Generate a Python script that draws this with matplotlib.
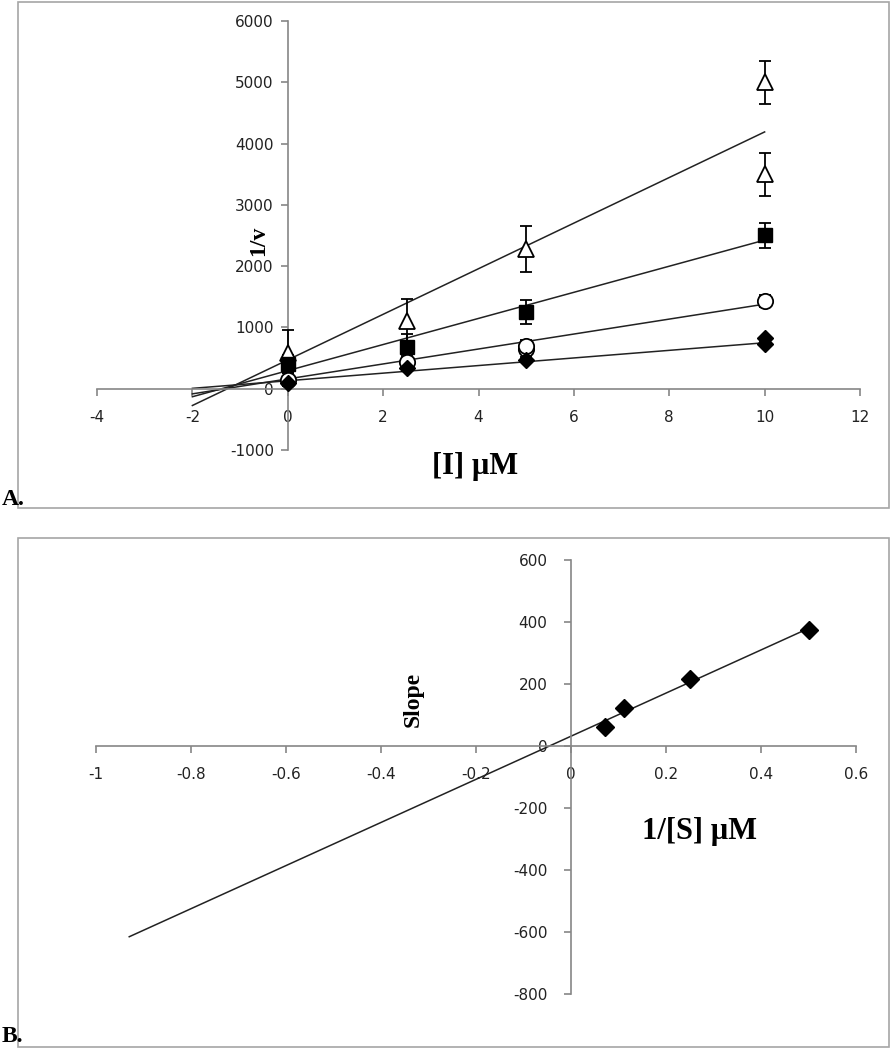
import numpy as np
from matplotlib import pyplot as plt
from matplotlib.patches import Rectangle

plt.rcParams['axes.unicode_minus'] = False

# Panel A data: 1/v against inhibitor concentration
conc = [0, 2.5, 5, 10]
tri_y = [580, 1100, 2280, 5000]
tri_err = [370, 370, 370, 350]
tri2_x = [10]
tri2_y = [3500]
tri2_err = [350]
sq_y = [400, 680, 1250, 2500]
sq_err = [150, 220, 200, 200]
circ_y = [150, 430, 700, 1430]
circ_err = [100, 100, 100, 100]
circ2_x = [5]
circ2_y = [640]
dia_y = [100, 330, 470, 730]
dia_err = [40, 40, 40, 40]
dia2_x = [10]
dia2_y = [820]

# fitted lines (intercept, slope), drawn from -2 to 10
fit_intercepts = [470, 295, 160, 130]
fit_slopes = [372, 213, 122, 62]
fit_range_a = [-2, 10]

# Panel B data: slope replot against 1/[S]
inv_s = [1 / 14, 1 / 9, 1 / 4, 1 / 2]
slopes = [62, 124, 215, 374]
fit_range_b = [-0.93, 0.5]

W, H = 892, 1050
fig = plt.figure(figsize=(W / 100, H / 100), dpi=100)

def fx(px):
    return px / W

def fy(py):
    return 1 - py / H

# grey frames round each panel
for top, bot in [(2, 508), (538, 1047)]:
    fig.patches.append(Rectangle((fx(18), fy(bot)), fx(889) - fx(18), fy(top) - fy(bot),
                                 transform=fig.transFigure, fill=False,
                                 edgecolor='#a6a6a6', lw=1.2))

axis_col = '#868686'
label_font = dict(family='Liberation Serif', weight='bold')

def style_axes(ax):
    for s in ['top', 'right']:
        ax.spines[s].set_visible(False)
    ax.spines['left'].set_position(('data', 0))
    ax.spines['bottom'].set_position(('data', 0))
    for s in ['left', 'bottom']:
        ax.spines[s].set_color(axis_col)
        ax.spines[s].set_linewidth(1.2)
    ax.tick_params(axis='both', direction='out', length=5, width=1.2, color=axis_col,
                   labelsize=11, labelcolor='#222222')
    ax.tick_params(axis='x', pad=10)
    ax.tick_params(axis='y', pad=5)
    ax.patch.set_alpha(0)

# ---- Panel A ----
axA = fig.add_axes([fx(97), fy(450), fx(860) - fx(97), fy(21) - fy(450)])
style_axes(axA)
axA.set_xlim(-4, 12)
axA.set_ylim(-1000, 6000)
axA.set_xticks(range(-4, 13, 2))
axA.set_yticks(range(-1000, 6001, 1000))

xl = np.array(fit_range_a)
for b, m in zip(fit_intercepts, fit_slopes):
    axA.plot(xl, b + m * xl, color='#222222', lw=1.1, zorder=2)

eb = dict(ecolor='black', elinewidth=1.3, capsize=4, capthick=1.3, ls='none', zorder=3)
axA.errorbar(conc, tri_y, yerr=tri_err, marker='^', ms=12, mfc='white', mec='black', mew=1.3, **eb)
axA.errorbar(tri2_x, tri2_y, yerr=tri2_err, marker='^', ms=12, mfc='white', mec='black', mew=1.3, **eb)
axA.errorbar(conc, sq_y, yerr=sq_err, marker='s', ms=10, mfc='black', mec='black', **eb)
axA.errorbar(conc, circ_y, yerr=circ_err, marker='o', ms=11, mfc='white', mec='black', mew=1.3, **eb)
axA.plot(circ2_x, circ2_y, marker='o', ms=11, mfc='white', mec='black', mew=1.3, ls='none', zorder=3)
axA.errorbar(conc, dia_y, yerr=dia_err, marker='D', ms=8, mfc='black', mec='black', **eb)
axA.plot(dia2_x, dia2_y, marker='D', ms=8, color='black', ls='none', zorder=3)

fig.text(fx(259), fy(241), '1/v', fontsize=17, rotation=90, ha='center', va='center', **label_font)
fig.text(fx(475), fy(466), '[I] µM', fontsize=22, ha='center', va='center', **label_font)
fig.text(fx(2), fy(510), 'A.', fontsize=17, ha='left', va='bottom', **label_font)

# ---- Panel B ----
axB = fig.add_axes([fx(96), fy(994), fx(856) - fx(96), fy(560) - fy(994)])
style_axes(axB)
axB.tick_params(axis='y', pad=12)
axB.set_xlim(-1, 0.6)
axB.set_ylim(-800, 600)
axB.set_xticks(np.arange(-1, 0.61, 0.2))
axB.set_xticklabels(['-1', '-0.8', '-0.6', '-0.4', '-0.2', '0', '0.2', '0.4', '0.6'])
axB.set_yticks(range(-800, 601, 200))

m, b = np.polyfit(inv_s, slopes, 1)
xb = np.array(fit_range_b)
axB.plot(xb, b + m * xb, color='#222222', lw=1.1, zorder=2)
axB.plot(inv_s, slopes, marker='D', ms=9, color='black', ls='none', zorder=3)

fig.text(fx(413), fy(699), 'Slope', fontsize=17, rotation=90, ha='center', va='center', **label_font)
fig.text(fx(700), fy(832), '1/[S] µM', fontsize=22, ha='center', va='center', **label_font)
fig.text(fx(2), fy(1047), 'B.', fontsize=17, ha='left', va='bottom', **label_font)

fig.savefig('out.png', dpi=100)
